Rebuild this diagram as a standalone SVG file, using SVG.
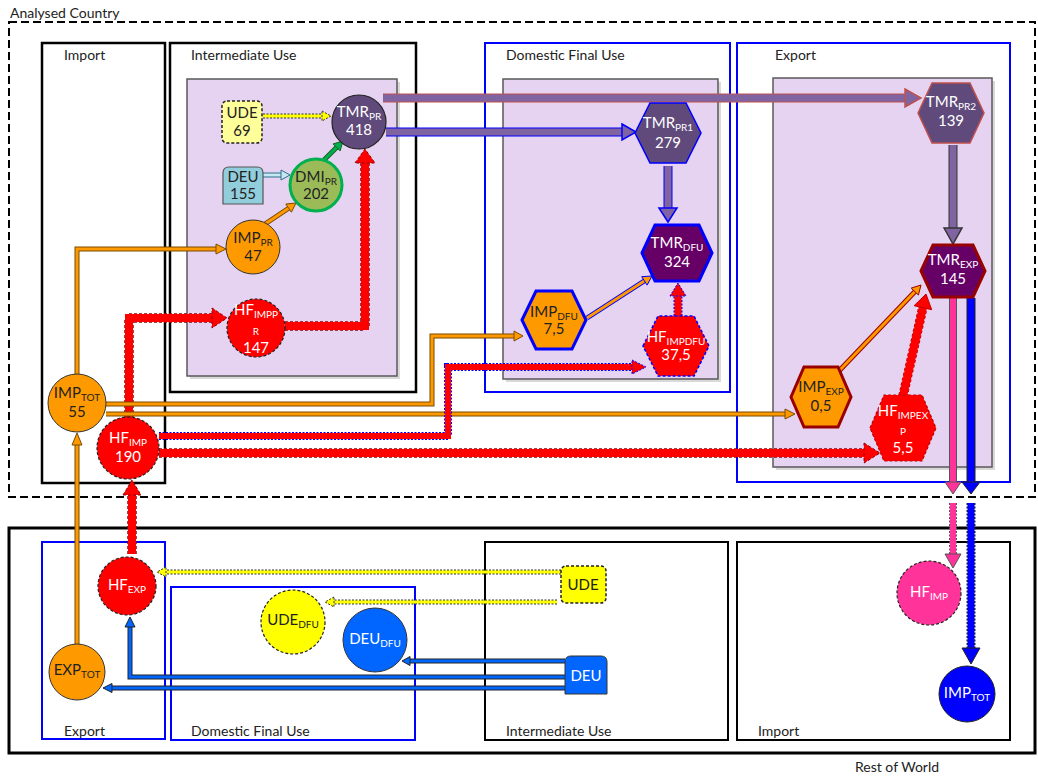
<svg xmlns="http://www.w3.org/2000/svg" width="1038" height="777" viewBox="0 0 1038 777">
<style>
text{font-family:Lato,"Noto Sans","Liberation Sans",sans-serif;font-size:15px;fill:#222}
.lbl{font-size:14px}
.c{text-anchor:middle}
.w{fill:#fff}
.sub{font-size:10px}
.box{fill:none;stroke:#000;stroke-width:2.5}
.bbox{fill:none;stroke:#0000ff;stroke-width:2}
.pbox{fill:#e6d3f1;stroke:#595959;stroke-width:1.5}
.shadow{fill:#bfbfbf;opacity:.6}
.o-out{fill:none;stroke:#7a4a00;stroke-width:5}
.o-in{fill:none;stroke:#ff9900;stroke-width:3}
.o-head{fill:#ff9900;stroke:#7a4a00;stroke-width:1}
.r-out{fill:none;stroke:#900000;stroke-width:9.5;stroke-dasharray:3 2}
.r-in{fill:none;stroke:#ff0000;stroke-width:8}
.r-head{fill:#ff0000;stroke:#900000;stroke-width:1;stroke-dasharray:3 2}
.y-out{fill:none;stroke:#333;stroke-width:5;stroke-dasharray:2 1.5}
.y-in{fill:none;stroke:#ffff00;stroke-width:3}
.y-head{fill:#ffff00;stroke:#333;stroke-width:1;stroke-dasharray:2 1.5}
.p-in{fill:none;stroke:#8064a2;stroke-width:7}
.p-head{fill:#8064a2;stroke-width:1.5}
.b-out{fill:none;stroke:#222;stroke-width:5}
.b-in{fill:none;stroke:#0066ff;stroke-width:3}
.b-head{fill:#0066ff;stroke:#222;stroke-width:1}
</style>

<g id="containers">
<rect x="9" y="22" width="1026" height="475" fill="none" stroke="#000" stroke-width="2" stroke-dasharray="8 4"/>
<text x="10" y="18" class="lbl">Analysed Country</text>
<rect x="9" y="528" width="1026" height="225" fill="none" stroke="#000" stroke-width="3"/>
<text x="855" y="772" class="lbl">Rest of World</text>

<rect x="42" y="43" width="123" height="440" class="box"/>
<text x="64" y="60" class="lbl">Import</text>
<rect x="170" y="43" width="246" height="349" class="box"/>
<text x="191" y="60" class="lbl">Intermediate Use</text>
<rect x="485" y="43" width="245" height="349" class="bbox"/>
<text x="506" y="60" class="lbl">Domestic Final Use</text>
<rect x="737" y="43" width="273" height="439" class="bbox"/>
<text x="775" y="60" class="lbl">Export</text>

<rect x="190" y="82" width="210" height="297" class="shadow"/>
<rect x="187" y="79" width="210" height="297" class="pbox"/>
<rect x="506" y="82" width="215" height="300" class="shadow"/>
<rect x="503" y="79" width="215" height="300" class="pbox"/>
<rect x="776" y="81" width="219" height="389" class="shadow"/>
<rect x="773" y="78" width="219" height="389" class="pbox"/>

<rect x="42" y="542" width="123" height="197" class="bbox"/>
<text x="64" y="736" class="lbl">Export</text>
<rect x="171" y="587" width="244" height="153" class="bbox"/>
<text x="191" y="736" class="lbl">Domestic Final Use</text>
<rect x="485" y="542" width="243" height="198" fill="none" stroke="#000" stroke-width="2"/>
<text x="506" y="736" class="lbl">Intermediate Use</text>
<rect x="737" y="542" width="273" height="198" fill="none" stroke="#000" stroke-width="2"/>
<text x="758" y="736" class="lbl">Import</text>
</g>

<g id="connectors">
<!-- UDE 69 -> TMR_PR -->
<path d="M263,116 H322" class="y-out"/><path d="M263,116 H322" class="y-in"/>
<polygon points="322,111 331,116 322,121" class="y-head"/>
<!-- DEU -> DMI -->
<path d="M263,175 H282" fill="none" stroke="#2e6e8e" stroke-width="5"/><path d="M263,175 H282" fill="none" stroke="#c6e7f0" stroke-width="3"/>
<polygon points="281,170 290,175 281,180" fill="#c6e7f0" stroke="#2e6e8e" stroke-width="1"/>
<!-- DMI -> TMR_PR -->
<path d="M324,160 L337,147" fill="none" stroke="#1a5e20" stroke-width="5"/><path d="M324,160 L337,147" fill="none" stroke="#00b050" stroke-width="3"/>
<polygon points="340.1,150.9 343,141 333.1,143.9" fill="#00b050" stroke="#1a5e20" stroke-width="1"/>
<!-- IMP_PR -> DMI -->
<path d="M265,224 L289,208" class="o-out"/><path d="M265,224 L289,208" class="o-in"/>
<polygon points="291.4,212.2 296,203 285.8,204" class="o-head"/>
<!-- IMP_TOT -> IMP_PR -->
<path d="M77,374 V249 H217" class="o-out"/><path d="M77,374 V249 H217" class="o-in"/>
<polygon points="216,244 226,249 216,254" class="o-head"/>
<!-- HF_IMP -> HF_IMPPR -->
<path d="M129,418 V318 H213" class="r-out"/><path d="M129,418 V318 H213" class="r-in"/>
<polygon points="212,308 227,318 212,328" class="r-head"/>
<!-- HF_IMPPR -> TMR_PR -->
<path d="M285,326 H365 V162" class="r-out"/><path d="M285,326 H365 V162" class="r-in"/>
<polygon points="355,163 365,149 375,163" class="r-head"/>
<!-- TMR_PR -> TMR_PR2 -->
<path d="M383,98 H906" fill="none" stroke="#c0504d" stroke-width="9"/><path d="M383,98 H906" class="p-in"/>
<polygon points="905,89 921,98 905,107" class="p-head" stroke="#c0504d"/>
<!-- TMR_PR -> TMR_PR1 -->
<path d="M386,132 H623" fill="none" stroke="#0000ff" stroke-width="9"/><path d="M386,132 H623" class="p-in"/>
<polygon points="622,124 636,132 622,140" class="p-head" stroke="#0000ff"/>
<!-- TMR_PR1 -> TMR_DFU -->
<path d="M668,166 V209" fill="none" stroke="#0000ff" stroke-width="9"/><path d="M668,166 V209" class="p-in"/>
<polygon points="659,208 668,222 677,208" class="p-head" stroke="#0000ff"/>
<!-- TMR_PR2 -> TMR_EXP -->
<path d="M953,145 V229" fill="none" stroke="#333" stroke-width="9"/><path d="M953,145 V229" class="p-in"/>
<polygon points="944,228 953,244 962,228" class="p-head" stroke="#333"/>
<!-- IMP_DFU -> TMR_DFU -->
<path d="M587,318 L645,280.5" fill="none" stroke="#0000ff" stroke-width="5"/><path d="M587,318 L645,280.5" class="o-in"/>
<polygon points="647.1,285.1 652,276 641.7,276.7" fill="#ff9900" stroke="#0000ff" stroke-width="1"/>
<!-- HF_IMPDFU -> TMR_DFU -->
<path d="M678,316 V295" fill="none" stroke="#0000ff" stroke-width="9" stroke-dasharray="2 1.5"/><path d="M678,316 V295" fill="none" stroke="#ff0000" stroke-width="7"/>
<polygon points="670,296 678,283 686,296" fill="#ff0000" stroke="#0000ff" stroke-width="1" stroke-dasharray="2 1.5"/>
<!-- IMP_TOT -> IMP_DFU -->
<path d="M106,404 H432 V336 H515" class="o-out"/><path d="M106,404 H432 V336 H515" class="o-in"/>
<polygon points="514,331 523,336 514,341" class="o-head"/>
<!-- IMP_TOT -> IMP_EXP -->
<path d="M106,414 H786" class="o-out"/><path d="M106,414 H786" class="o-in"/>
<polygon points="785,409 795,414 785,419" class="o-head"/>
<!-- HF_IMP -> HF_IMPDFU -->
<path d="M159,436 H448 V367 H633" fill="none" stroke="#0000ff" stroke-width="8" stroke-dasharray="2 1.5"/><path d="M159,436 H448 V367 H633" fill="none" stroke="#ff0000" stroke-width="6"/>
<polygon points="632,360 646,367 632,374" fill="#ff0000" stroke="#0000ff" stroke-width="1" stroke-dasharray="2 1.5"/>
<!-- HF_IMP -> HF_IMPEXP -->
<path d="M159,453 H865" class="r-out"/><path d="M159,453 H865" class="r-in"/>
<polygon points="864,443 880,453 864,463" class="r-head"/>
<!-- IMP_EXP -> TMR_EXP -->
<path d="M838,372 L915,291.5" fill="none" stroke="#990000" stroke-width="5"/><path d="M838,372 L915,291.5" class="o-in"/>
<polygon points="918.4,295 921,285 911.2,288.1" fill="#ff9900" stroke="#990000" stroke-width="1"/>
<!-- HF_IMPEXP -> TMR_EXP -->
<path d="M903,396 L923,307" fill="none" stroke="#c00000" stroke-width="9.5" stroke-dasharray="3 2"/><path d="M903,396 L923,307" fill="none" stroke="#ff0000" stroke-width="8"/>
<polygon points="931.7,309.7 926,294 914.1,305.7" fill="#ff0000" stroke="#c00000" stroke-width="1"/>
<!-- TMR_EXP -> RoW HF_IMP (pink) -->
<path d="M953,298 V483" fill="none" stroke="#555" stroke-width="8"/><path d="M953,298 V483" fill="none" stroke="#ff3399" stroke-width="6"/>
<polygon points="945,482 953,494 961,482" fill="#ff3399" stroke="#555" stroke-width="1"/>
<path d="M953,503 V555" fill="none" stroke="#555" stroke-width="8" stroke-dasharray="2 1.5"/><path d="M953,503 V555" fill="none" stroke="#ff3399" stroke-width="6"/>
<polygon points="945,554 953,568 961,554" fill="#ff3399" stroke="#555" stroke-width="1"/>
<!-- TMR_EXP -> RoW IMP_TOT (blue) -->
<path d="M971,298 V483" fill="none" stroke="#222" stroke-width="9"/><path d="M971,298 V483" fill="none" stroke="#0000ff" stroke-width="7"/>
<polygon points="962,482 971,494 980,482" fill="#0000ff" stroke="#222" stroke-width="1"/>
<path d="M971,503 V649" fill="none" stroke="#222" stroke-width="9" stroke-dasharray="2 1.5"/><path d="M971,503 V649" fill="none" stroke="#0000ff" stroke-width="7"/>
<polygon points="962,648 971,664 980,648" fill="#0000ff" stroke="#222" stroke-width="1"/>
<!-- EXP_TOT -> IMP_TOT -->
<path d="M77,644 V444" class="o-out"/><path d="M77,644 V444" class="o-in"/>
<polygon points="72,445 77,433 82,445" class="o-head"/>
<!-- HF_EXP -> HF_IMP -->
<path d="M132,554 V494" class="r-out"/><path d="M132,554 V494" class="r-in"/>
<polygon points="123,495 132,480 141,495" class="r-head"/>
<!-- UDE -> HF_EXP -->
<path d="M561,572 H165" class="y-out"/><path d="M561,572 H165" class="y-in"/>
<polygon points="166,567 157,572 166,577" class="y-head"/>
<!-- UDE -> UDE_DFU -->
<path d="M557,602 H333" class="y-out"/><path d="M557,602 H333" class="y-in"/>
<polygon points="334,597 325,602 334,607" class="y-head"/>
<!-- DEU -> DEU_DFU -->
<path d="M565,661 H409" class="b-out"/><path d="M565,661 H409" class="b-in"/>
<polygon points="410,656.5 402,661 410,665.5" class="b-head"/>
<!-- DEU -> HF_EXP -->
<path d="M565,677 H130 V626" class="b-out"/><path d="M565,677 H130 V626" class="b-in"/>
<polygon points="125,627 130,617 135,627" class="b-head"/>
<!-- DEU -> EXP_TOT -->
<path d="M565,688 H111" class="b-out"/><path d="M565,688 H111" class="b-in"/>
<polygon points="112,683.5 103,688 112,692.5" class="b-head"/>
</g>

<g id="node-ude69">
<rect x="222" y="101" width="40" height="42" rx="5" fill="#ffff99" stroke="#222" stroke-width="1.5" stroke-dasharray="3 2"/>
<text x="242" y="118" class="c">UDE</text><text x="242" y="136" class="c">69</text>
</g>
<g id="node-deu155">
<path d="M223,204 V173 Q223,167 229,167 H257 Q263,167 263,173 V204 Z" fill="#92cddc" stroke="#555" stroke-width="1.2"/>
<text x="243" y="182" class="c">DEU</text><text x="243" y="199" class="c">155</text>
</g>
<g id="node-dmipr">
<circle cx="316" cy="185" r="26" fill="#9bbb59" stroke="#00b050" stroke-width="3"/>
<text x="316" y="182" class="c">DMI<tspan class="sub" dy="3">PR</tspan></text><text x="316" y="199" class="c">202</text>
</g>
<g id="node-tmrpr">
<circle cx="359" cy="122" r="27" fill="#604a7b" stroke="#222" stroke-width="1.2"/>
<text x="359" y="117" class="c w">TMR<tspan class="sub w" dy="3">PR</tspan></text><text x="359" y="135" class="c w">418</text>
</g>
<g id="node-imppr">
<circle cx="253" cy="247" r="27" fill="#ff9900" stroke="#333" stroke-width="1"/>
<text x="253" y="243" class="c">IMP<tspan class="sub" dy="3">PR</tspan></text><text x="253" y="261" class="c">47</text>
</g>
<g id="node-hfimppr">
<circle cx="256" cy="328" r="29" fill="#ff0000" stroke="#222" stroke-width="1.2" stroke-dasharray="3 2"/>
<text x="256" y="315" class="c w">HF<tspan class="sub w" dy="3">IMPP</tspan></text>
<text x="256" y="335" class="c w sub">R</text>
<text x="256" y="353" class="c w">147</text>
</g>
<g id="node-imptot">
<circle cx="77" cy="403" r="29" fill="#ff9900" stroke="#333" stroke-width="1"/>
<text x="77" y="398" class="c">IMP<tspan class="sub" dy="3">TOT</tspan></text><text x="77" y="417" class="c">55</text>
</g>
<g id="node-hfimp">
<circle cx="128" cy="448" r="31" fill="#ff0000" stroke="#222" stroke-width="1.2" stroke-dasharray="3 2"/>
<text x="128" y="443" class="c w">HF<tspan class="sub w" dy="3">IMP</tspan></text><text x="128" y="462" class="c w">190</text>
</g>
<g id="node-tmrpr1">
<polygon points="635,133 650,103 686,103 701,133 686,163 650,163" fill="#604a7b" stroke="#0000ff" stroke-width="1.5"/>
<text x="668" y="128" class="c w">TMR<tspan class="sub w" dy="3">PR1</tspan></text><text x="668" y="148" class="c w">279</text>
</g>
<g id="node-tmrdfu">
<polygon points="642,253 655,225 699,225 712,253 699,281 655,281" fill="#660066" stroke="#0000ff" stroke-width="3"/>
<text x="677" y="248" class="c w">TMR<tspan class="sub w" dy="3">DFU</tspan></text><text x="677" y="267" class="c w">324</text>
</g>
<g id="node-impdfu">
<polygon points="522,320 536,291 572,291 586,320 572,349 536,349" fill="#ff9900" stroke="#0000ff" stroke-width="3"/>
<text x="554" y="317" class="c">IMP<tspan class="sub" dy="3">DFU</tspan></text><text x="554" y="334" class="c">7,5</text>
</g>
<g id="node-hfimpdfu">
<polygon points="643,346 658,316 694,316 709,346 694,376 658,376" fill="#ff0000" stroke="#0000ff" stroke-width="1.5" stroke-dasharray="3 2"/>
<text x="676" y="342" class="c w">HF<tspan class="sub w" dy="3">IMPDFU</tspan></text><text x="676" y="360" class="c w">37,5</text>
</g>
<g id="node-tmrpr2">
<polygon points="918,113 932,83 970,83 984,113 970,143 932,143" fill="#604a7b" stroke="#c0504d" stroke-width="1.5"/>
<text x="951" y="107" class="c w">TMR<tspan class="sub w" dy="3">PR2</tspan></text><text x="951" y="126" class="c w">139</text>
</g>
<g id="node-tmrexp">
<polygon points="921,271 933,245 973,245 985,271 973,297 933,297" fill="#660066" stroke="#990000" stroke-width="3"/>
<text x="953" y="265" class="c w">TMR<tspan class="sub w" dy="3">EXP</tspan></text><text x="953" y="284" class="c w">145</text>
</g>
<g id="node-impexp">
<polygon points="791,397 804,367 838,367 851,397 838,427 804,427" fill="#ff9900" stroke="#990000" stroke-width="3"/>
<text x="821" y="392" class="c">IMP<tspan class="sub" dy="3">EXP</tspan></text><text x="821" y="411" class="c">0,5</text>
</g>
<g id="node-hfimpexp">
<polygon points="870,428 884,395 922,395 936,428 922,461 884,461" fill="#ff0000" stroke="#c00000" stroke-width="1.2" stroke-dasharray="3 2"/>
<text x="903" y="416" class="c w">HF<tspan class="sub w" dy="3">IMPEX</tspan></text>
<text x="903" y="435" class="c w sub">P</text>
<text x="903" y="453" class="c w">5,5</text>
</g>
<g id="node-hfexp">
<circle cx="127" cy="586" r="29" fill="#ff0000" stroke="#222" stroke-width="1.2" stroke-dasharray="3 2"/>
<text x="127" y="590" class="c w">HF<tspan class="sub w" dy="3">EXP</tspan></text>
</g>
<g id="node-exptot">
<circle cx="77" cy="672" r="28" fill="#ff9900" stroke="#333" stroke-width="1"/>
<text x="77" y="675" class="c">EXP<tspan class="sub" dy="3">TOT</tspan></text>
</g>
<g id="node-udedfu">
<circle cx="293" cy="622" r="32" fill="#ffff00" stroke="#222" stroke-width="1.2" stroke-dasharray="3 2"/>
<text x="293" y="625" class="c">UDE<tspan class="sub" dy="3">DFU</tspan></text>
</g>
<g id="node-deudfu">
<circle cx="375" cy="640" r="32" fill="#0066ff" stroke="#333" stroke-width="1"/>
<text x="375" y="644" class="c w">DEU<tspan class="sub w" dy="3">DFU</tspan></text>
</g>
<g id="node-ude">
<rect x="561" y="566" width="45" height="37" rx="5" fill="#ffff00" stroke="#222" stroke-width="1.5" stroke-dasharray="3 2"/>
<text x="583" y="590" class="c">UDE</text>
</g>
<g id="node-deu">
<path d="M565,694 V662 Q565,656 571,656 H601 Q607,656 607,662 V694 Z" fill="#0066ff" stroke="#333" stroke-width="1"/>
<text x="586" y="681" class="c w">DEU</text>
</g>
<g id="node-hfimp-row">
<circle cx="929" cy="593" r="32" fill="#ff3399" stroke="#222" stroke-width="1.2" stroke-dasharray="3 2"/>
<text x="929" y="597" class="c w">HF<tspan class="sub w" dy="3">IMP</tspan></text>
</g>
<g id="node-imptot-row">
<circle cx="967" cy="694" r="28" fill="#0000ff" stroke="#222" stroke-width="1"/>
<text x="967" y="698" class="c w">IMP<tspan class="sub w" dy="3">TOT</tspan></text>
</g>
</svg>
